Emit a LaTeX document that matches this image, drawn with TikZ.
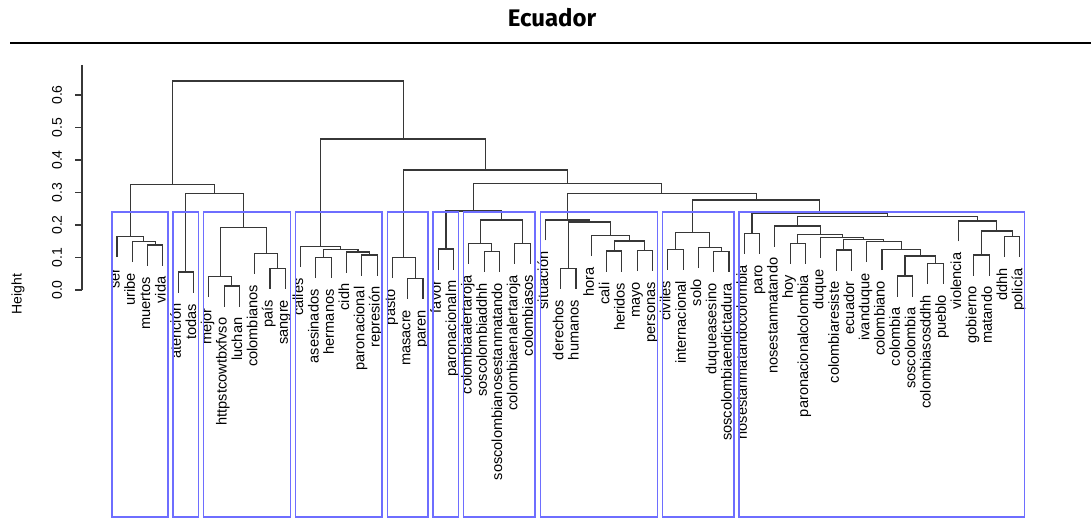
\documentclass[tikz,border=0pt]{standalone}
\usepackage{fontspec}
\setmainfont{Liberation Sans}
\newfontfamily\titlefont{Fira Sans}
\usetikzlibrary{calc}

\definecolor{boxblue}{RGB}{110,110,255}
\definecolor{treegray}{RGB}{55,55,55}

\tikzset{
  branch/.style={treegray, line width=1.1pt},
  leaf/.style={rotate=90, anchor=mid east, inner sep=0pt, font=\fontsize{14.6}{16}\selectfont},
  clusterbox/.style={boxblue, line width=1.4pt},
  ticklabel/.style={rotate=90, inner sep=0pt, font=\fontsize{14}{16}\selectfont},
}

% one merge of the tree: name, left child, right child, height (px from top)
\newcommand{\joinpair}[4]{%
  \coordinate (#1c) at ($(#2)!0.5!(#3)$);
  \coordinate (#1) at (#1c |- 0,#4);
  \draw[branch] (#2) |- (#1) -| (#3);
}

\begin{document}
\begin{tikzpicture}[x=1pt, y=-1pt]
    \useasboundingbox (0,0) rectangle (1091,521);

    % Title and rule
    \node[font=\titlefont\bfseries\fontsize{24}{28}\selectfont] (title) at (552,18) {Ecuador};
    \draw[line width=2.5pt] (10,43) -- (1091,43);

    % Height axis
    \draw[treegray, line width=1.1pt] (82,65) -- (82,290);
    \foreach \h in {0,...,6} {
        \draw[treegray, line width=1.1pt] (82,{290-32.5*\h}) -- (75,{290-32.5*\h});
        \node[ticklabel] (tick\h) at (57,{290-32.5*\h}) {0.\h};
    }
    \node[ticklabel] (ylab) at (18,294) {Height};

    % Leaves: index / parent height / label
    \foreach \i/\p/\lab in {1/236.7/ser, 2/241.7/uribe, 3/245/muertos, 4/245/vida,
        5/272/atención, 6/272/todas,
        7/276.7/mejor, 8/286/httpstcowtbxfvso, 9/286/luchan, 10/253.3/colombianos, 11/268.3/país, 12/268.3/sangre,
        13/246.7/calles, 14/257.7/asesinados, 15/257.7/hermanos, 16/252/cidh, 17/255/paronacional, 18/255/represión,
        19/257.7/pasto, 20/278.3/masacre, 21/278.3/paren,
        22/249/favor, 23/249/paronacionalm,
        24/243.3/colombiaalertaroja, 25/251.3/soscolombiaddhh, 26/251.3/soscolombianosestanmatando,
        27/243.3/colombiaenalertaroja, 28/243.3/colombiasos,
        29/220/situación, 30/268.3/derechos, 31/268.3/humanos, 32/235.5/hora, 33/251/cali,
        34/251/heridos, 35/250.5/mayo, 36/250.5/personas,
        37/249.3/civiles, 38/249.3/internacional, 39/247.7/solo, 40/251.7/duqueasesino, 41/251.7/soscolombiaendictadura,
        42/233.3/nosestanmatandocolombia, 43/233.3/paro, 44/226/nosestanmatando, 45/243.3/hoy,
        46/243.3/paronacionalcolombia, 47/237.5/duque, 48/250/colombiaresiste, 49/250/ecuador,
        50/241.5/ivanduque, 51/249.5/colombiano, 52/276/colombia, 53/276/soscolombia,
        54/263.3/colombiasosddhh, 55/263.3/pueblo, 56/221/violencia, 57/255/gobierno,
        58/255/matando, 59/236.7/ddhh, 60/236.7/policía} {
        \coordinate (L\i) at ({117+(\i-1)*15.3},{\p+20.5});
        \node[leaf] (t\i) at ({117+(\i-1)*15.3},{\p+31.5}) {\lab};
    }

    % Cluster 1
    \joinpair{a34}{L3}{L4}{245}
    \joinpair{a24}{L2}{a34}{241.7}
    \joinpair{a14}{L1}{a24}{236.7}
    % Clusters 2 and 3
    \joinpair{a56}{L5}{L6}{272}
    \joinpair{a89}{L8}{L9}{286}
    \joinpair{a79}{L7}{a89}{276.7}
    \joinpair{a1112}{L11}{L12}{268.3}
    \joinpair{a1012}{L10}{a1112}{253.3}
    \joinpair{a712}{a79}{a1012}{227.7}
    \joinpair{a512}{a56}{a712}{193.3}
    \joinpair{a112}{a14}{a512}{184.3}
    % Cluster 4
    \joinpair{a1718}{L17}{L18}{255}
    \joinpair{a1618}{L16}{a1718}{252}
    \joinpair{a1415}{L14}{L15}{257.7}
    \joinpair{a1418}{a1415}{a1618}{249.3}
    \joinpair{a1318}{L13}{a1418}{246.7}
    % Cluster 5
    \joinpair{a2021}{L20}{L21}{278.3}
    \joinpair{a1921}{L19}{a2021}{257.7}
    % Clusters 6 and 7
    \joinpair{a2223}{L22}{L23}{249}
    \joinpair{a2526}{L25}{L26}{251.3}
    \joinpair{a2426}{L24}{a2526}{243.3}
    \joinpair{a2728}{L27}{L28}{243.3}
    \joinpair{a2428}{a2426}{a2728}{220}
    \joinpair{a2228}{a2223}{a2428}{211}
    % Cluster 8
    \joinpair{a3031}{L30}{L31}{268.3}
    \joinpair{a3334}{L33}{L34}{251}
    \joinpair{a3536}{L35}{L36}{250.5}
    \joinpair{a3336}{a3334}{a3536}{241}
    \joinpair{a3236}{L32}{a3336}{235.5}
    \joinpair{a3036}{a3031}{a3236}{222}
    \joinpair{a2936}{L29}{a3036}{220}
    % Cluster 9
    \joinpair{a3738}{L37}{L38}{249.3}
    \joinpair{a4041}{L40}{L41}{251.7}
    \joinpair{a3941}{L39}{a4041}{247.7}
    \joinpair{a3741}{a3738}{a3941}{232.3}
    % Cluster 10
    \joinpair{a4243}{L42}{L43}{233.3}
    \joinpair{a4546}{L45}{L46}{243.3}
    \joinpair{a4849}{L48}{L49}{250}
    \joinpair{a5253}{L52}{L53}{276}
    \joinpair{a5455}{L54}{L55}{263.3}
    \joinpair{a5255}{a5253}{a5455}{256}
    \joinpair{a5155}{L51}{a5255}{249.5}
    \joinpair{a5055}{L50}{a5155}{241.5}
    \joinpair{a4855}{a4849}{a5055}{239.5}
    \joinpair{a4755}{L47}{a4855}{237.5}
    \joinpair{a4555}{a4546}{a4755}{234.5}
    \joinpair{a4455}{L44}{a4555}{226}
    \joinpair{a5758}{L57}{L58}{255}
    \joinpair{a5960}{L59}{L60}{236.7}
    \joinpair{a5760}{a5758}{a5960}{231}
    \joinpair{a5660}{L56}{a5760}{221}
    \joinpair{a4460}{a4455}{a5660}{216.7}
    \joinpair{a4260}{a4243}{a4460}{213}
    % Upper merges
    \joinpair{a3760}{a3741}{a4260}{200}
    \joinpair{a2960}{a2936}{a3760}{193.3}
    \joinpair{a2260}{a2228}{a2960}{183.3}
    \joinpair{a1960}{a1921}{a2260}{170}
    \joinpair{a1360}{a1318}{a1960}{139}
    \joinpair{root}{a112}{a1360}{81}

    % Cluster boxes
    \foreach \a/\b in {1/4, 5/6, 7/12, 13/18, 19/21, 22/23, 24/28, 29/36, 37/41, 42/60}
        \draw[clusterbox] ({117+(\a-1)*15.3-5.2},212) rectangle ({117+(\b-1)*15.3+5},517);
\end{tikzpicture}
\end{document}
